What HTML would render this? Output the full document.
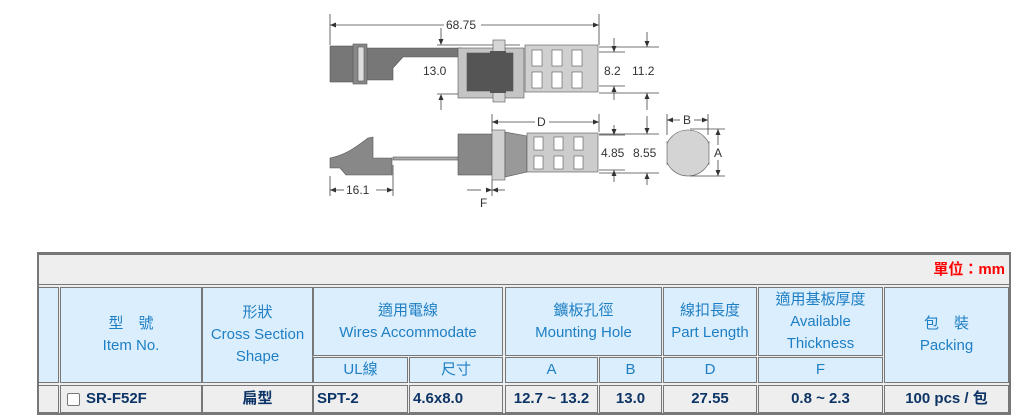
<!DOCTYPE html>
<html><head><meta charset="utf-8"><style>
body{margin:0;width:1027px;height:420px;background:#fff;position:relative;overflow:hidden;font-family:"Liberation Sans","Noto Sans CJK TC",sans-serif}
.c{position:absolute;box-sizing:border-box;border:1px solid #777;background:#dbeefd;color:#1e7fc4;font-size:15px;display:flex;align-items:center;justify-content:center;text-align:center;line-height:22px}
.d{background:#eee;color:#0d3466;font-weight:bold;font-size:15px}
svg{position:absolute;left:0;top:0}
</style></head><body>
<svg width="1027" height="240" font-family="Liberation Sans, sans-serif" font-size="12" fill="#333">
<defs><clipPath id="cp"><rect x="667" y="120" width="42" height="70"/></clipPath></defs>
<g stroke="#444" stroke-width="0.8" fill="none">
<line x1="330" y1="14" x2="330" y2="45"/><line x1="599" y1="14" x2="599" y2="45"/>
<line x1="330" y1="25" x2="444" y2="25"/><line x1="481" y1="25" x2="599" y2="25"/>
<line x1="437" y1="45" x2="520" y2="45"/><line x1="437" y1="94" x2="460" y2="94"/>
<line x1="441" y1="28" x2="441" y2="44"/><line x1="441" y1="96" x2="441" y2="110"/>
<line x1="599" y1="52" x2="625" y2="52"/><line x1="599" y1="86" x2="625" y2="86"/>
<line x1="599" y1="47" x2="659" y2="47"/><line x1="599" y1="93" x2="659" y2="93"/>
<line x1="614" y1="38" x2="614" y2="52"/><line x1="614" y1="86" x2="614" y2="100"/>
<line x1="647" y1="32" x2="647" y2="47"/><line x1="647" y1="93" x2="647" y2="110"/>
<line x1="492" y1="114" x2="492" y2="132"/><line x1="599" y1="114" x2="599" y2="132"/>
<line x1="492" y1="122" x2="535" y2="122"/><line x1="549" y1="122" x2="599" y2="122"/>
<line x1="599" y1="135" x2="625" y2="135"/><line x1="599" y1="170" x2="625" y2="170"/>
<line x1="599" y1="134" x2="659" y2="134"/><line x1="599" y1="173" x2="659" y2="173"/>
<line x1="614" y1="125" x2="614" y2="135"/><line x1="614" y1="170" x2="614" y2="182"/>
<line x1="647" y1="116" x2="647" y2="134"/><line x1="647" y1="173" x2="647" y2="185"/>
<line x1="667" y1="114" x2="667" y2="135"/><line x1="708" y1="114" x2="708" y2="135"/>
<line x1="667" y1="120" x2="680" y2="120"/><line x1="694" y1="120" x2="708" y2="120"/>
<line x1="690" y1="129" x2="725" y2="129"/><line x1="690" y1="176" x2="725" y2="176"/>
<line x1="718" y1="129" x2="718" y2="145"/><line x1="718" y1="160" x2="718" y2="176"/>
<line x1="330" y1="176" x2="330" y2="196"/><line x1="393" y1="165" x2="393" y2="196"/>
<line x1="330" y1="190" x2="344" y2="190"/><line x1="376" y1="190" x2="393" y2="190"/>
<line x1="492" y1="180" x2="492" y2="196"/><line x1="467" y1="190" x2="481" y2="190"/><line x1="492" y1="190" x2="505" y2="190"/>
</g>
<g fill="#333">
<path d="M330 25l6 -2.5v5z"/><path d="M599 25l-6 -2.5v5z"/>
<path d="M441 45l-2.5 -6h5z"/><path d="M441 94l-2.5 6h5z"/>
<path d="M614 52l-2.5 -6h5z"/><path d="M614 86l-2.5 6h5z"/>
<path d="M647 47l-2.5 -6h5z"/><path d="M647 93l-2.5 6h5z"/>
<path d="M492 122l6 -2.5v5z"/><path d="M599 122l-6 -2.5v5z"/>
<path d="M614 135l-2.5 -6h5z"/><path d="M614 170l-2.5 6h5z"/>
<path d="M647 134l-2.5 -6h5z"/><path d="M647 173l-2.5 6h5z"/>
<path d="M667 120l6 -2.5v5z"/><path d="M708 120l-6 -2.5v5z"/>
<path d="M718 129l-2.5 6h5z"/><path d="M718 176l-2.5 -6h5z"/>
<path d="M330 190l6 -2.5v5z"/><path d="M393 190l-6 -2.5v5z"/>
<path d="M492 190l-6 -2.5v5z"/><path d="M492 190l6 -2.5v5z"/>
</g>
<g stroke="#555" stroke-width="0.6">
<rect x="330" y="46" width="24" height="36" fill="#777"/>
<path d="M366 48H462V57H403L393 68V80H366Z" fill="#777"/>
<rect x="353" y="44" width="14" height="40" fill="#888"/>
<rect x="358" y="47" width="6" height="34" fill="#ddd"/>
<rect x="458" y="48" width="66" height="50" fill="#c4c4c4"/>
<rect x="525" y="45" width="73" height="47" fill="#d0d0d0"/>
<rect x="493" y="40" width="12" height="62" fill="#d6d6d6"/>
<rect x="467" y="53" width="46" height="38" fill="#555"/>
<rect x="490" y="51" width="16" height="42" fill="#555" stroke="none"/>
<g fill="#fff">
<rect x="532" y="50" width="10" height="16"/><rect x="532" y="72" width="10" height="16"/>
<rect x="552" y="50" width="10" height="16"/><rect x="552" y="72" width="10" height="16"/>
<rect x="572" y="50" width="10" height="16"/><rect x="572" y="72" width="10" height="16"/>
</g>
</g>
<g stroke="#555" stroke-width="0.6">
<path d="M330 158C345 155 355 148 368 138L373 137V158H392V175H346L340 168H330Z" fill="#888"/>
<rect x="393" y="157" width="66" height="3" fill="#aaa"/>
<rect x="458" y="134" width="35" height="41" fill="#888"/>
<rect x="492" y="130" width="13" height="50" fill="#d0d0d0"/>
<path d="M505 132L527 136V172L505 177Z" fill="#999"/>
<rect x="527" y="133" width="71" height="39" fill="#ccc"/>
<g fill="#fff">
<rect x="534" y="137" width="9" height="13"/><rect x="534" y="156" width="9" height="13"/>
<rect x="554" y="137" width="9" height="13"/><rect x="554" y="156" width="9" height="13"/>
<rect x="574" y="137" width="9" height="13"/><rect x="574" y="156" width="9" height="13"/>
</g>
<circle cx="688" cy="153" r="23" fill="#d4d4d4" clip-path="url(#cp)"/>
<line x1="667" y1="141" x2="667" y2="165"/><line x1="709" y1="141" x2="709" y2="165"/>
</g>
<text x="446" y="29" font-size="12">68.75</text>
<text x="423" y="75">13.0</text>
<text x="604" y="75">8.2</text>
<text x="632" y="75">11.2</text>
<text x="537" y="126">D</text>
<text x="601" y="157">4.85</text>
<text x="633" y="157">8.55</text>
<text x="683" y="124">B</text>
<text x="714" y="157">A</text>
<text x="346" y="194">16.1</text>
<text x="480" y="207">F</text>
</svg>

<div class="c" style="left:37px;top:252px;width:974px;height:163px;background:#eee;border:2px solid #777"></div>
<div class="c" style="left:38px;top:254px;width:972px;height:31px;background:#eee;justify-content:flex-end;padding-right:4px;color:#f00;font-weight:bold">單位：mm</div>
<div class="c" style="left:38px;top:287px;width:21px;height:96px"></div>
<div class="c" style="left:60px;top:287px;width:142px;height:96px">型　號<br>Item No.</div>
<div class="c" style="left:202px;top:287px;width:111px;height:96px">形狀<br>Cross Section<br>Shape</div>
<div class="c" style="left:313px;top:287px;width:190px;height:69px">適用電線<br>Wires Accommodate</div>
<div class="c" style="left:313px;top:357px;width:95px;height:26px">UL線</div>
<div class="c" style="left:409px;top:357px;width:94px;height:26px">尺寸</div>
<div class="c" style="left:505px;top:287px;width:157px;height:69px">鑛板孔徑<br>Mounting Hole</div>
<div class="c" style="left:505px;top:357px;width:93px;height:26px">A</div>
<div class="c" style="left:599px;top:357px;width:63px;height:26px">B</div>
<div class="c" style="left:663px;top:287px;width:94px;height:69px">線扣長度<br>Part Length</div>
<div class="c" style="left:663px;top:357px;width:94px;height:26px">D</div>
<div class="c" style="left:758px;top:287px;width:125px;height:69px">適用基板厚度<br>Available<br>Thickness</div>
<div class="c" style="left:758px;top:357px;width:125px;height:26px">F</div>
<div class="c" style="left:884px;top:287px;width:125px;height:96px">包　裝<br>Packing</div>
<div class="c d" style="left:38px;top:385px;width:21px;height:28px"></div>
<div class="c d" style="left:60px;top:385px;width:142px;height:28px;justify-content:flex-start;padding-left:6px"><span style="display:inline-block;width:11px;height:11px;border:1px solid #777;border-radius:2px;background:#fff;margin-right:6px"></span>SR-F52F</div>
<div class="c d" style="left:202px;top:385px;width:111px;height:28px">扁型</div>
<div class="c d" style="left:313px;top:385px;width:95px;height:28px;justify-content:flex-start;padding-left:3px">SPT-2</div>
<div class="c d" style="left:409px;top:385px;width:94px;height:28px;justify-content:flex-start;padding-left:3px">4.6x8.0</div>
<div class="c d" style="left:505px;top:385px;width:93px;height:28px">12.7 ~ 13.2</div>
<div class="c d" style="left:599px;top:385px;width:63px;height:28px">13.0</div>
<div class="c d" style="left:663px;top:385px;width:94px;height:28px">27.55</div>
<div class="c d" style="left:758px;top:385px;width:125px;height:28px">0.8 ~ 2.3</div>
<div class="c d" style="left:884px;top:385px;width:125px;height:28px">100 pcs / 包</div>
</body></html>
